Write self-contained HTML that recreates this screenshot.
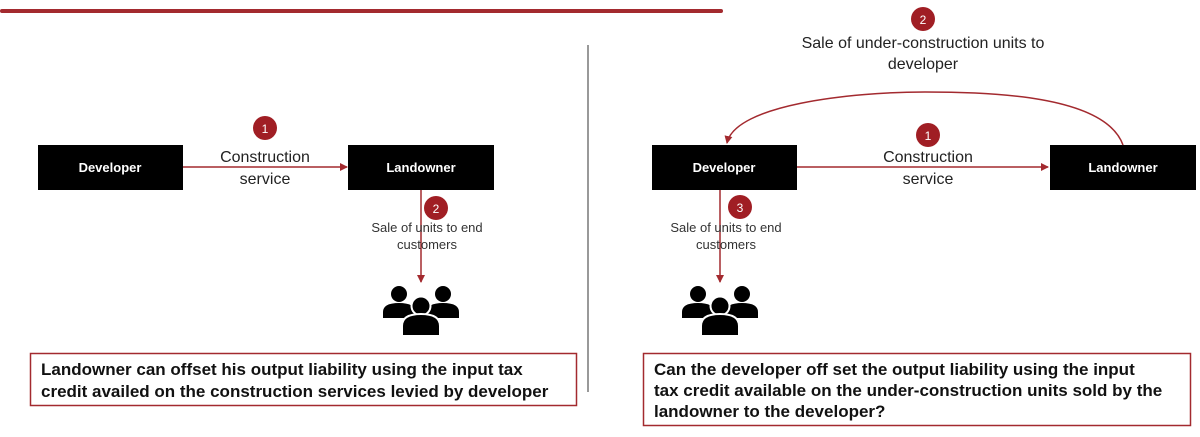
<!DOCTYPE html>
<html><head><meta charset="utf-8"><style>
body{margin:0;background:#fff;width:1200px;height:432px;overflow:hidden;font-family:"Liberation Sans",sans-serif}
</style></head><body>
<svg width="1200" height="432" viewBox="0 0 1200 432" xmlns="http://www.w3.org/2000/svg" font-family="Liberation Sans, sans-serif">
<defs>
<marker id="ah" markerWidth="8" markerHeight="8" refX="7" refY="4" orient="auto" markerUnits="userSpaceOnUse"><path d="M0,0 L8,4 L0,8 z" fill="#a32a2f"/></marker>
<g id="ppl">
<circle cx="-22" cy="8" r="8"/><path d="M-38,32 v-6 q0,-9 16,-9 q16,0 16,9 v6z"/>
<circle cx="22" cy="8" r="8"/><path d="M6,32 v-6 q0,-9 16,-9 q16,0 16,9 v6z"/>
<circle cx="0" cy="20" r="9.5" stroke="#fff" stroke-width="2"/><path d="M-19,50 v-10 q0,-12 19,-12 q19,0 19,12 v10z" stroke="#fff" stroke-width="2"/>
</g>
</defs>
<rect x="0" y="9" width="723" height="4" rx="2" fill="#a32a2f"/>
<line x1="588" y1="45" x2="588" y2="392" stroke="#333" stroke-width="1"/>

<!-- left -->
<rect x="38" y="145" width="145" height="45" fill="#000"/>
<text x="110" y="172" fill="#fff" font-size="13" font-weight="bold" text-anchor="middle">Developer</text>
<rect x="348" y="145" width="146" height="45" fill="#000"/>
<text x="421" y="172" fill="#fff" font-size="13" font-weight="bold" text-anchor="middle">Landowner</text>
<line x1="183" y1="167" x2="347" y2="167" stroke="#a32a2f" stroke-width="1.5" marker-end="url(#ah)"/>
<circle cx="265" cy="128" r="12" fill="#a01e24"/><text x="265" y="133" fill="#fff" font-size="12" text-anchor="middle">1</text>
<text x="265" y="162" font-size="16" fill="#222" text-anchor="middle">Construction</text>
<text x="265" y="184" font-size="16" fill="#222" text-anchor="middle">service</text>
<line x1="421" y1="190" x2="421" y2="282" stroke="#a32a2f" stroke-width="1.5" marker-end="url(#ah)"/>
<circle cx="436" cy="208" r="12" fill="#a01e24"/><text x="436" y="213" fill="#fff" font-size="12" text-anchor="middle">2</text>
<text x="427" y="232" font-size="13" fill="#333" text-anchor="middle">Sale of units to end</text>
<text x="427" y="249" font-size="13" fill="#333" text-anchor="middle">customers</text>
<use href="#ppl" x="421" y="286"/>
<rect x="30.5" y="353.5" width="546" height="52" fill="none" stroke="#a32a2f" stroke-width="1.5"/>
<text x="41" y="375" font-size="17" font-weight="bold" fill="#111">Landowner can offset his output liability using the input tax</text>
<text x="41" y="397" font-size="17" font-weight="bold" fill="#111">credit availed on the construction services levied by developer</text>

<!-- right -->
<rect x="652" y="145" width="145" height="45" fill="#000"/>
<text x="724" y="172" fill="#fff" font-size="13" font-weight="bold" text-anchor="middle">Developer</text>
<rect x="1050" y="145" width="146" height="45" fill="#000"/>
<text x="1123" y="172" fill="#fff" font-size="13" font-weight="bold" text-anchor="middle">Landowner</text>
<line x1="797" y1="167" x2="1048" y2="167" stroke="#a32a2f" stroke-width="1.5" marker-end="url(#ah)"/>
<circle cx="928" cy="135" r="12" fill="#a01e24"/><text x="928" y="140" fill="#fff" font-size="12" text-anchor="middle">1</text>
<text x="928" y="162" font-size="16" fill="#222" text-anchor="middle">Construction</text>
<text x="928" y="184" font-size="16" fill="#222" text-anchor="middle">service</text>
<path d="M1123,145 C1105,95 990,92 925,92 C850,92 735,105 727,143" fill="none" stroke="#a32a2f" stroke-width="1.5" marker-end="url(#ah)"/>
<circle cx="923" cy="19" r="12" fill="#a01e24"/><text x="923" y="24" fill="#fff" font-size="12" text-anchor="middle">2</text>
<text x="923" y="48" font-size="16" fill="#222" text-anchor="middle">Sale of under-construction units to</text>
<text x="923" y="69" font-size="16" fill="#222" text-anchor="middle">developer</text>
<line x1="720" y1="190" x2="720" y2="282" stroke="#a32a2f" stroke-width="1.5" marker-end="url(#ah)"/>
<circle cx="740" cy="207" r="12" fill="#a01e24"/><text x="740" y="212" fill="#fff" font-size="12" text-anchor="middle">3</text>
<text x="726" y="232" font-size="13" fill="#333" text-anchor="middle">Sale of units to end</text>
<text x="726" y="249" font-size="13" fill="#333" text-anchor="middle">customers</text>
<use href="#ppl" x="720" y="286"/>
<rect x="643.5" y="353.5" width="547" height="72" fill="none" stroke="#a32a2f" stroke-width="1.5"/>
<text x="654" y="375" font-size="17" font-weight="bold" fill="#111">Can the developer off set the output liability using the input</text>
<text x="654" y="396" font-size="17" font-weight="bold" fill="#111">tax credit available on the under-construction units sold by the</text>
<text x="654" y="417" font-size="17" font-weight="bold" fill="#111">landowner to the developer?</text>
</svg>
</body></html>
